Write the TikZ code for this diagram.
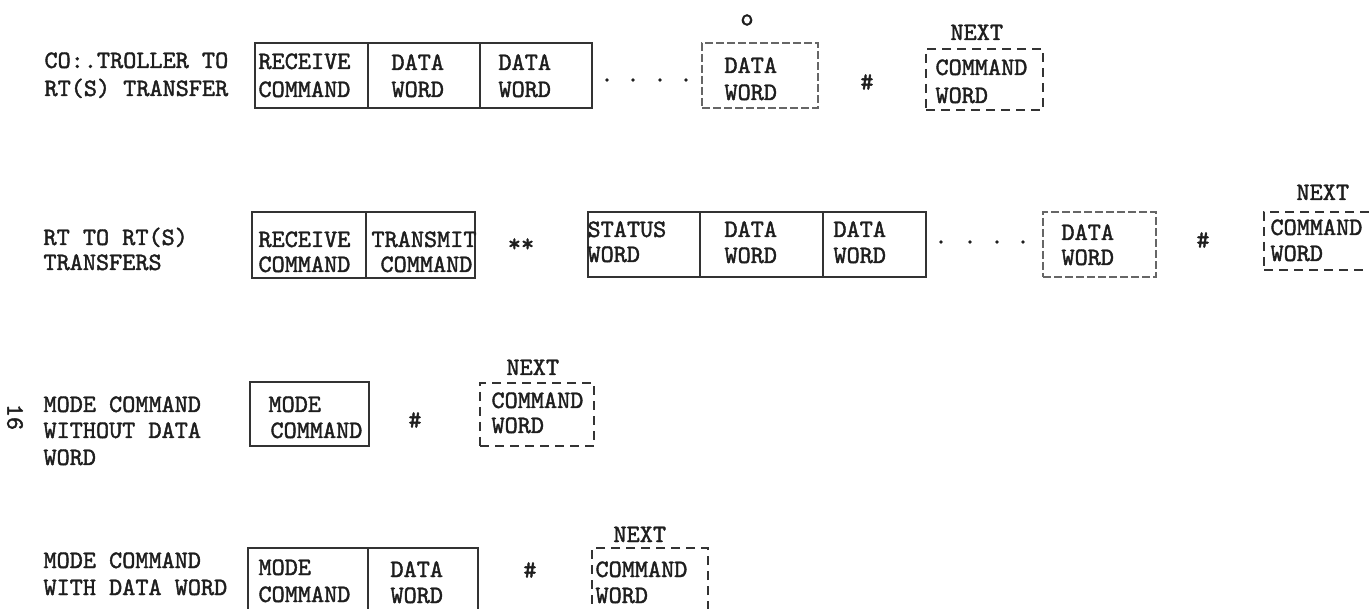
\documentclass[tikz,border=0pt]{standalone}
\usepackage{fontspec}
\usetikzlibrary{fit}
\newfontfamily\twfont{lmmono10-regular.otf}[FakeBold=1.6]
\definecolor{ink}{HTML}{1E1E1E}
\definecolor{edge}{HTML}{333333}
\tikzset{
  tw/.style={font=\twfont\fontsize{25}{28}\selectfont, text=ink, inner sep=0pt, outer sep=0pt},
  tl/.style={tw, anchor=base west, xshift=-1.5pt},
  wbox/.style={draw=edge, line width=1.3pt, inner sep=0pt, outer sep=0pt},
  faintbox/.style={wbox, draw=edge!75, dash pattern=on 8pt off 3pt},
  nextbox/.style={wbox, dash pattern=on 9pt off 6pt},
  dotn/.style={circle, fill=ink, minimum size=3.6pt, inner sep=0pt}
}
\newcommand\twline[3]{\node[tl] (#1) at (#2) {#3};}
\newcommand\wbx[4][wbox]{\node[#1, fit={(#3) (#4)}] (#2) {};}
\begin{document}
\begin{tikzpicture}[x=1pt,y=-1pt]
\fill[white] (0,0) rectangle (1369,609);
\useasboundingbox (0,0) rectangle (1369,609);

% ---------- Row 1 ----------
\twline{l1a}{46,68}{CO:.TROLLER TO}
\twline{l1b}{46,96}{RT(S) TRANSFER}
\wbx{r1b1}{255,43}{368,108}
\wbx{r1b2}{368,43}{480,108}
\wbx{r1b3}{480,43}{592,108}
\wbx[faintbox]{r1b4}{702,43}{818,108}
\wbx[nextbox]{r1n}{926,49}{1043,110}
\twline{r1t1a}{260,69}{RECEIVE}
\twline{r1t1b}{260,97}{COMMAND}
\twline{r1t2a}{393,70}{DATA}
\twline{r1t2b}{393,97}{WORD}
\twline{r1t3a}{500,70}{DATA}
\twline{r1t3b}{500,97}{WORD}
\twline{r1t4a}{726,73}{DATA}
\twline{r1t4b}{726,100}{WORD}
\node[tw] (r1o) at (747,20) {o};
\node[tw] (r1hash) at (867,82) {\#};
\twline{r1next}{952,40}{NEXT}
\twline{r1tna}{937,75}{COMMAND}
\twline{r1tnb}{937,103}{WORD}
\node[dotn] (r1d1) at (607,80) {};
\node[dotn] (r1d2) at (633,80) {};
\node[dotn] (r1d3) at (660,80) {};
\node[dotn] (r1d4) at (686,80) {};

% ---------- Row 2 ----------
\twline{l2a}{45,245}{RT TO RT(S)}
\twline{l2b}{45,270}{TRANSFERS}
\wbx{r2b1}{252,212}{366,278}
\wbx{r2b2}{366,212}{475,278}
\wbx{r2s}{588,212}{700,277}
\wbx{r2d2}{700,212}{823,277}
\wbx{r2d3}{823,212}{926,277}
\wbx[faintbox]{r2d4}{1043,212}{1156,277}
\wbx[nextbox]{r2n}{1264,212}{1385,270}
\twline{r2t1a}{260,247}{RECEIVE}
\twline{r2t1b}{260,272}{COMMAND}
\twline{r2t2a}{373,247}{TRANSMIT}
\twline{r2t2b}{382,272}{COMMAND}
\node[tw] (r2ast) at (521,245) {**};
\twline{r2tsa}{589,237}{STATUS}
\twline{r2tsb}{589,262}{WORD}
\twline{r2t3a}{726,237}{DATA}
\twline{r2t3b}{726,263}{WORD}
\twline{r2t4a}{835,237}{DATA}
\twline{r2t4b}{835,263}{WORD}
\node[dotn] (r2d1) at (941,242) {};
\node[dotn] (r2d2) at (970,242) {};
\node[dotn] (r2d3) at (997,242) {};
\node[dotn] (r2d4) at (1023,242) {};
\twline{r2t5a}{1063,240}{DATA}
\twline{r2t5b}{1063,265}{WORD}
\node[tw] (r2hash) at (1203,240) {\#};
\twline{r2next}{1298,200}{NEXT}
\twline{r2tna}{1272,235}{COMMAND}
\twline{r2tnb}{1272,261}{WORD}

% ---------- Row 3 ----------
\node[tw, rotate=-90] (page) at (15,417) {16};
\twline{l3a}{45,412}{MODE COMMAND}
\twline{l3b}{45,438}{WITHOUT DATA}
\twline{l3c}{45,465}{WORD}
\wbx{r3m}{250,382}{369,446}
\wbx[nextbox]{r3n}{480,383}{594,446}
\twline{r3tma}{270,412}{MODE}
\twline{r3tmb}{272,438}{COMMAND}
\node[tw] (r3hash) at (415,420) {\#};
\twline{r3next}{508,375}{NEXT}
\twline{r3tna}{493,408}{COMMAND}
\twline{r3tnb}{493,433}{WORD}

% ---------- Row 4 ----------
\twline{l4a}{45,568}{MODE COMMAND}
\twline{l4b}{45,595}{WITH DATA WORD}
\wbx{r4m}{248,548}{368,614}
\wbx{r4d}{368,548}{478,614}
\wbx[nextbox]{r4n}{592,548}{708,614}
\twline{r4tma}{260,575}{MODE}
\twline{r4tmb}{260,602}{COMMAND}
\twline{r4tda}{392,577}{DATA}
\twline{r4tdb}{392,603}{WORD}
\node[tw] (r4hash) at (530,570) {\#};
\twline{r4next}{615,542}{NEXT}
\twline{r4tna}{597,577}{COMMAND}
\twline{r4tnb}{597,603}{WORD}
\end{tikzpicture}
\end{document}
